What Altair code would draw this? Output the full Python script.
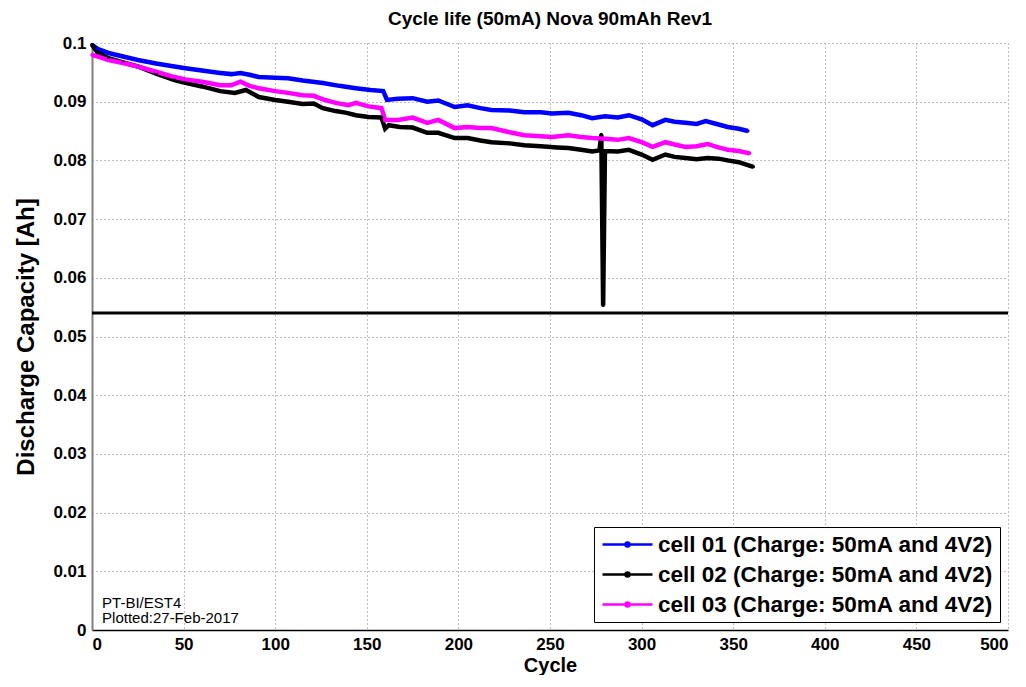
import altair as alt
import pandas as pd

# ---- data ----
c1_cycle = [0, 3, 9, 17, 25, 35, 45, 51, 60, 70, 76, 81, 86, 91, 100, 107, 115, 126, 135, 144,
            152, 159, 161, 167, 175, 183, 189, 198, 205, 212, 218, 228, 236, 245, 251, 260, 267,
            273, 280, 287, 293, 300, 306, 313, 318, 324, 330, 335, 341, 347, 353, 358]
c1_cap = [0.0997, 0.0990, 0.0983, 0.0977, 0.0971, 0.0965, 0.0960, 0.0957, 0.0953, 0.0949, 0.0947,
          0.0949, 0.0946, 0.0942, 0.0941, 0.0940, 0.0936, 0.0932, 0.0927, 0.0923, 0.0920, 0.0918,
          0.0903, 0.0905, 0.0906, 0.0900, 0.0902, 0.0891, 0.0894, 0.0889, 0.0886, 0.0885, 0.0882,
          0.0882, 0.0880, 0.0881, 0.0877, 0.0872, 0.0875, 0.0873, 0.0877, 0.0870, 0.0860, 0.0869,
          0.0866, 0.0864, 0.0862, 0.0867, 0.0862, 0.0857, 0.0854, 0.0850]

c2_cycle = [0, 3, 9, 17, 25, 35, 45, 51, 60, 70, 78, 84, 91, 100, 107, 115, 121, 126, 133, 139,
            144, 151, 158, 160, 162, 168, 175, 183, 189, 198, 205, 212, 218, 228, 236, 245, 254,
            260, 267, 273, 277, 278, 279, 280, 287, 293, 300, 306, 313, 318, 324, 330, 336, 342,
            347, 353, 358, 361]
c2_cap = [0.0997, 0.0984, 0.0974, 0.0967, 0.0960, 0.0948, 0.0937, 0.0932, 0.0926, 0.0918, 0.0915,
          0.0920, 0.0908, 0.0903, 0.0900, 0.0896, 0.0897, 0.0889, 0.0884, 0.0881, 0.0877, 0.0874,
          0.0873, 0.0854, 0.0860, 0.0857, 0.0856, 0.0847, 0.0847, 0.0838, 0.0838, 0.0834, 0.0831,
          0.0829, 0.0826, 0.0824, 0.0822, 0.0821, 0.0818, 0.0815, 0.0817, 0.0844, 0.0553, 0.0816,
          0.0815, 0.0818, 0.0810, 0.0801, 0.0810, 0.0806, 0.0804, 0.0802, 0.0804, 0.0803, 0.0800,
          0.0797, 0.0792, 0.0789]

c3_cycle = [0, 5, 9, 17, 25, 35, 45, 51, 60, 70, 76, 81, 86, 91, 100, 107, 115, 121, 126, 133,
            140, 144, 151, 158, 160, 167, 175, 183, 189, 198, 205, 212, 218, 228, 236, 245, 251,
            260, 267, 273, 280, 287, 293, 300, 306, 313, 318, 324, 330, 336, 341, 347, 353, 359]
c3_cap = [0.0980, 0.0975, 0.0971, 0.0966, 0.0960, 0.0951, 0.0942, 0.0938, 0.0934, 0.0928, 0.0928,
          0.0934, 0.0927, 0.0923, 0.0918, 0.0915, 0.0911, 0.0910, 0.0904, 0.0898, 0.0894, 0.0898,
          0.0892, 0.0889, 0.0869, 0.0869, 0.0873, 0.0864, 0.0869, 0.0855, 0.0857, 0.0855, 0.0855,
          0.0848, 0.0843, 0.0841, 0.0840, 0.0843, 0.0840, 0.0838, 0.0837, 0.0835, 0.0838, 0.0831,
          0.0823, 0.0831, 0.0827, 0.0823, 0.0824, 0.0828, 0.0823, 0.0818, 0.0816, 0.0812]

series_names = ["cell 01 (Charge: 50mA and 4V2)",
                "cell 02 (Charge: 50mA and 4V2)",
                "cell 03 (Charge: 50mA and 4V2)"]
series_colors = ["#0000FF", "#000000", "#FF00FF"]

limit_value = [0.054]
x_ticks = [0, 50, 100, 150, 200, 250, 300, 350, 400, 450, 500]
y_ticks = [0, 0.01, 0.02, 0.03, 0.04, 0.05, 0.06, 0.07, 0.08, 0.09, 0.1]

note_lines = ["PT-BI/EST4", "Plotted:27-Feb-2017"]
note_x = [5.5, 5.5]
note_y = [0.0046, 0.0020]

# ---- build table ----
rows = []
for name, cyc, cap in zip(series_names, [c1_cycle, c2_cycle, c3_cycle], [c1_cap, c2_cap, c3_cap]):
    for c, v in zip(cyc, cap):
        rows.append({"Cycle": c, "Capacity": v, "Series": name})
df = pd.DataFrame(rows)

FONT = "Liberation Sans"

x_enc = alt.X("Cycle:Q", scale=alt.Scale(domain=[0, 500], nice=False),
              axis=alt.Axis(values=x_ticks, title="Cycle"))
y_enc = alt.Y("Capacity:Q", scale=alt.Scale(domain=[0, 0.1], nice=False),
              axis=alt.Axis(values=y_ticks, format=".2~f", title="Discharge Capacity [Ah]"))

legend_symbol = "M-2.5,0H2.5M0.2,0A0.2,0.2 0 1,1 -0.2,0A0.2,0.2 0 1,1 0.2,0"

lines = alt.Chart(df).mark_line(strokeWidth=4.5, point=alt.OverlayMarkDef(size=12, filled=True)).encode(
    x=x_enc,
    y=y_enc,
    color=alt.Color("Series:N",
                    scale=alt.Scale(domain=series_names, range=series_colors),
                    legend=alt.Legend(title=None, orient="bottom-right", offset=8,
                                      symbolType=legend_symbol, symbolSize=400,
                                      symbolStrokeWidth=2.5, symbolOffset=16,
                                      labelOffset=19,
                                      labelFont=FONT, labelFontSize=22.5, labelFontWeight="bold",
                                      labelColor="black", rowPadding=7,
                                      strokeColor="black", fillColor="white",
                                      padding=6, labelLimit=600)),
    order="Cycle:Q",
)

rule = alt.Chart(pd.DataFrame({"y": limit_value})).mark_rule(color="black", strokeWidth=3).encode(
    y="y:Q"
)

notes = alt.Chart(pd.DataFrame({"x": note_x, "y": note_y, "t": note_lines})).mark_text(
    align="left", baseline="middle", font=FONT, fontSize=15, color="black"
).encode(x="x:Q", y="y:Q", text="t:N")

chart = alt.layer(rule, lines, notes).properties(
    width=916, height=587,
    title=alt.TitleParams("Cycle life (50mA) Nova 90mAh Rev1", font=FONT, fontSize=19,
                          fontWeight="bold", color="black", offset=5),
    autosize=alt.AutoSizeParams(type="none"),
    padding={"left": 84, "top": 35, "right": 10, "bottom": 45},
).configure_view(stroke=None).configure_axis(
    labelFont=FONT, labelFontSize=17, labelFontWeight="bold", labelColor="black",
    titleFont=FONT, titleFontWeight="bold", titleColor="black",
    grid=True, gridColor="#808080", gridDash=[1, 3], gridWidth=1,
    ticks=False, domainWidth=1.5,
).configure_axisX(domainColor="black", labelPadding=6, titlePadding=3, titleFontSize=20).configure_axisY(
    domainColor="#808080", domainWidth=2, labelPadding=6, titlePadding=14, titleFontSize=24
)

chart.save("out.html", embed_options={"renderer": "svg", "actions": False})
